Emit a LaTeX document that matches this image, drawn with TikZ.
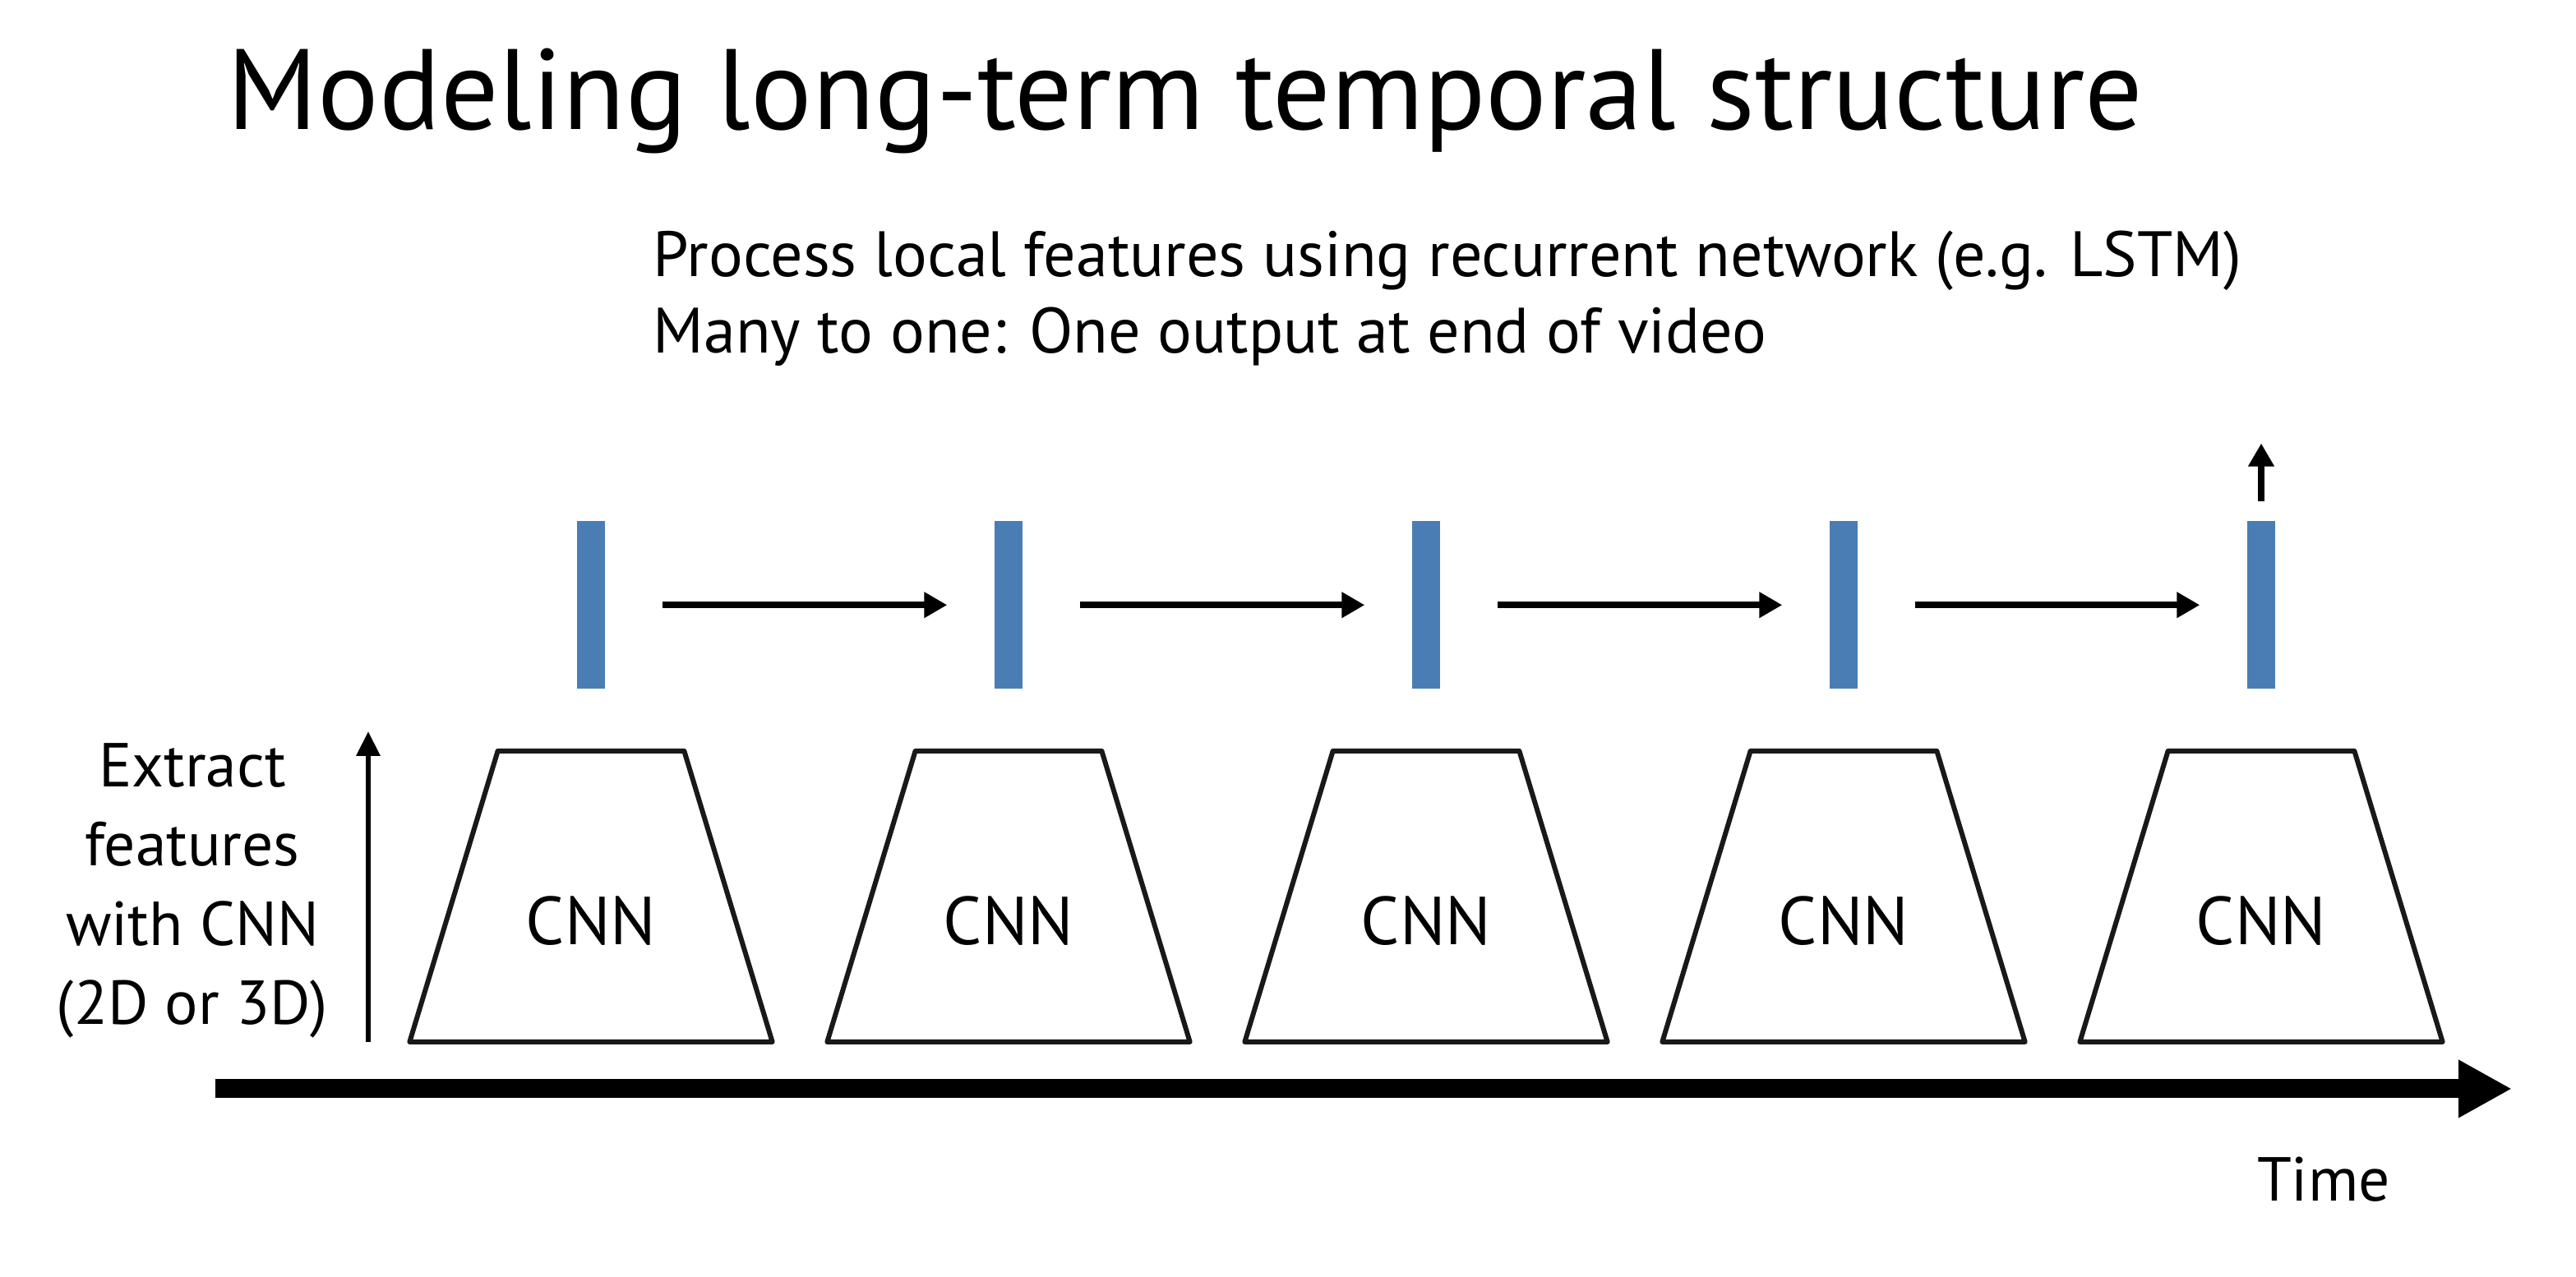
\documentclass[tikz,border=0pt]{standalone}
\usepackage{fontspec}
\setmainfont{PT Sans}
\usetikzlibrary{positioning,shapes.geometric,arrows.meta}
\definecolor{barblue}{HTML}{4A7DB4}

\begin{document}
\begin{tikzpicture}
\tikzset{titleFont/.style={font=\fontsize{39.6}{47}\selectfont}}
\tikzset{myFont/.style={font=\fontsize{22.2}{26.7}\selectfont}}
\tikzset{sideFont/.style={font=\fontsize{21.5}{27.5}\selectfont}}
\tikzset{timeFont/.style={font=\fontsize{21.5}{26}\selectfont}}
\tikzset{cnnFont/.style={font=\fontsize{23.5}{28}\selectfont}}
\tikzset{cnnBox/.style={draw=black!90,line width=0.06cm,line join=round,trapezium,trapezium angle=73.2,trapezium stretches=true,minimum width=4.42cm,inner xsep=1.13cm,inner ysep=1.77cm}}
\tikzset{featBar/.style={fill=barblue,minimum width=0.34cm,minimum height=2.04cm,inner sep=0pt}}
\tikzset{recArrow/.style={line width=0.08cm,-{Triangle[length=0.28cm,width=0.3cm]}}}

\useasboundingbox (0,0) rectangle (31.34,15.54);

\node[titleFont,inner sep=0pt,anchor=base west] (title) at (2.76,13.96) {Modeling long-term temporal structure};
\node[myFont,inner sep=0pt,anchor=base west,align=left] (note) at (7.94,11.24) {Process local features using recurrent network (e.g. LSTM)\\Many to one: One output at end of video};

% CNN per frame, feature vector on top
\foreach \i in {1,...,5}{
  \node[cnnBox] (cnn\i) at ({7.19+5.08*(\i-1)},4.63) {};
  \node[cnnFont,inner sep=0pt] (cnnText\i) at ([yshift=-0.3cm]cnn\i.center) {CNN};
  \node[featBar,above=0.72cm of cnn\i] (feat\i) {};
}

% recurrent connections
\foreach \i/\j in {1/2,2/3,3/4,4/5}
  \draw[recArrow,shorten <=0.69cm,shorten >=0.57cm] (feat\i) -- (feat\j);

\coordinate[above=0.94cm of feat5] (out);
\draw[recArrow,shorten <=0.24cm] (feat5) -- (out);

% side label
\node[sideFont,inner sep=0pt,anchor=base,align=center] (extract) at (2.34,3.07) {Extract\\features\\with CNN\\(2D or 3D)};
\coordinate (upA) at (4.48,2.86);
\coordinate (upB) at (4.48,6.64);
\draw[line width=0.065cm,-{Triangle[length=0.3cm,width=0.28cm]}] (upA) -- (upB);

% time axis
\coordinate (t0) at (2.62,2.29);
\coordinate (t1) at (30.56,2.29);
\draw[line width=0.23cm,-{Triangle[length=0.65cm,width=0.66cm]}] (t0) -- (t1);
\node[timeFont,inner sep=0pt,anchor=base] (time) at (28.27,0.92) {Time};
\end{tikzpicture}
\end{document}
